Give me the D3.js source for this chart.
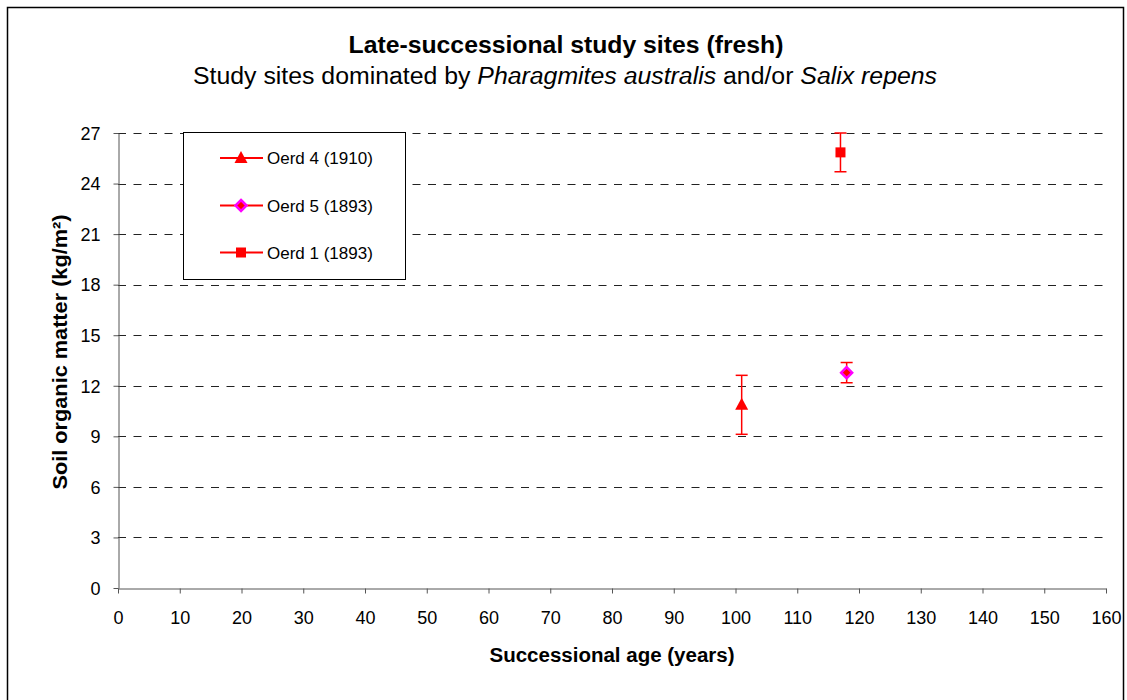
<!DOCTYPE html>
<html>
<head>
<meta charset="utf-8">
<script src="https://cdn.jsdelivr.net/npm/d3@7"></script>
<style>
  html, body { margin: 0; padding: 0; background: #fff; }
  svg { display: block; font-family: "Liberation Sans", Arial, sans-serif; }
</style>
</head>
<body>
<svg id="chart" width="1127" height="700"></svg>
<script>
// Study sites: successional age (years) vs soil organic matter (kg/m²)
const sites   = ["Oerd 4 (1910)", "Oerd 5 (1893)", "Oerd 1 (1893)"];
const ages    = [101, 118, 117];
const som     = [10.87, 12.78, 25.85];
const somErr  = [1.75, 0.6, 1.15];
const symbols = ["triangle", "diamond", "square"];

const xTicks = d3.range(0, 161, 10);
const yTicks = d3.range(0, 28, 3);

const svg = d3.select("#chart");

// chart frame
svg.append("rect")
  .attr("x", 7.5).attr("y", 7.5)
  .attr("width", 1116).attr("height", 700)
  .attr("fill", "#fff").attr("stroke", "#000").attr("stroke-width", 1.5);

const x = d3.scaleLinear().domain([0, 160]).range([118, 1106]);
const y = d3.scaleLinear().domain([0, 27]).range([588, 133]);

// horizontal dashed gridlines
svg.append("g")
  .selectAll("line")
  .data(yTicks.filter(v => v > 0))
  .join("line")
  .attr("x1", x(0)).attr("x2", x(160))
  .attr("y1", d => Math.round(y(d)) + 0.5).attr("y2", d => Math.round(y(d)) + 0.5)
  .attr("stroke", "#222").attr("stroke-width", 1)
  .attr("stroke-dasharray", "8,7.5");

// axes
const xAxis = svg.append("g")
  .attr("transform", `translate(0,${Math.round(y(0)) + 0.5})`)
  .call(d3.axisBottom(x).tickValues(xTicks).tickSize(5).tickSizeOuter(0).tickPadding(18)
    .tickFormat(d3.format("d")));
const yAxis = svg.append("g")
  .attr("transform", `translate(${Math.round(x(0)) + 0.5},0)`)
  .call(d3.axisLeft(y).tickValues(yTicks).tickSize(5).tickSizeOuter(0).tickPadding(13)
    .tickFormat(d3.format("d")));

[xAxis, yAxis].forEach(a => {
  a.select(".domain").attr("stroke", "#555");
  a.selectAll(".tick line").attr("stroke", "#555");
  a.selectAll("text").attr("font-size", 18).attr("fill", "#000")
    .attr("font-family", "Liberation Sans, Arial, sans-serif");
});
yAxis.selectAll("text").attr("dy", "0.35em");

// titles
svg.append("text")
  .attr("x", 566).attr("y", 53)
  .attr("text-anchor", "middle")
  .attr("font-size", 23).attr("font-weight", "bold")
  .attr("textLength", 435).attr("lengthAdjust", "spacingAndGlyphs")
  .text("Late-successional study sites (fresh)");

const sub = svg.append("text")
  .attr("x", 565).attr("y", 84)
  .attr("text-anchor", "middle")
  .attr("font-size", 23)
  .attr("textLength", 744).attr("lengthAdjust", "spacingAndGlyphs");
sub.append("tspan").text("Study sites dominated by ");
sub.append("tspan").attr("font-style", "italic").text("Pharagmites australis");
sub.append("tspan").text("  and/or ");
sub.append("tspan").attr("font-style", "italic").text("Salix repens");

svg.append("text")
  .attr("x", 612).attr("y", 662)
  .attr("text-anchor", "middle")
  .attr("font-size", 20).attr("font-weight", "bold")
  .attr("textLength", 245).attr("lengthAdjust", "spacingAndGlyphs")
  .text("Successional age (years)");

svg.append("text")
  .attr("transform", "translate(67,352) rotate(-90)")
  .attr("text-anchor", "middle")
  .attr("font-size", 20).attr("font-weight", "bold")
  .attr("textLength", 275).attr("lengthAdjust", "spacingAndGlyphs")
  .text("Soil organic matter (kg/m²)");

const red = "#ff0000", magenta = "#ff00ff";

function marker(sel, type) {
  if (type === "triangle") {
    sel.append("path").attr("d", "M0,-7 L6.5,5 L-6.5,5 Z").attr("fill", red);
  } else if (type === "square") {
    sel.append("rect").attr("x", -5).attr("y", -5).attr("width", 10).attr("height", 10).attr("fill", red);
  } else {
    sel.append("path").attr("d", "M0,-5.5 L5.5,0 L0,5.5 L-5.5,0 Z")
      .attr("fill", red).attr("stroke", magenta).attr("stroke-width", 2.5);
  }
}

// error bars and markers
const pts = svg.append("g");
sites.forEach((s, i) => {
  const g = pts.append("g");
  const cx = x(ages[i]);
  const lo = y(som[i] - somErr[i]), hi = y(som[i] + somErr[i]);
  g.append("line").attr("x1", cx).attr("x2", cx).attr("y1", lo).attr("y2", hi)
    .attr("stroke", red).attr("stroke-width", 1.5);
  [lo, hi].forEach(v => g.append("line")
    .attr("x1", cx - 6).attr("x2", cx + 6).attr("y1", v).attr("y2", v)
    .attr("stroke", red).attr("stroke-width", 1.5));
  const m = g.append("g").attr("transform", `translate(${cx},${y(som[i])})`);
  marker(m, symbols[i]);
});

// legend
const leg = svg.append("g");
leg.append("rect")
  .attr("x", 183.5).attr("y", 132.5).attr("width", 222).attr("height", 147)
  .attr("fill", "#fff").attr("stroke", "#000").attr("stroke-width", 1);
const legY = [158, 205.5, 252.5];
sites.forEach((s, i) => {
  const ly = legY[i];
  leg.append("line").attr("x1", 220).attr("x2", 263).attr("y1", ly).attr("y2", ly)
    .attr("stroke", red).attr("stroke-width", 2);
  const m = leg.append("g").attr("transform", `translate(241,${ly})`);
  marker(m, symbols[i]);
  leg.append("text").attr("x", 267).attr("y", ly).attr("dy", "0.36em")
    .attr("font-size", 17).text(s);
});
</script>
</body>
</html>
